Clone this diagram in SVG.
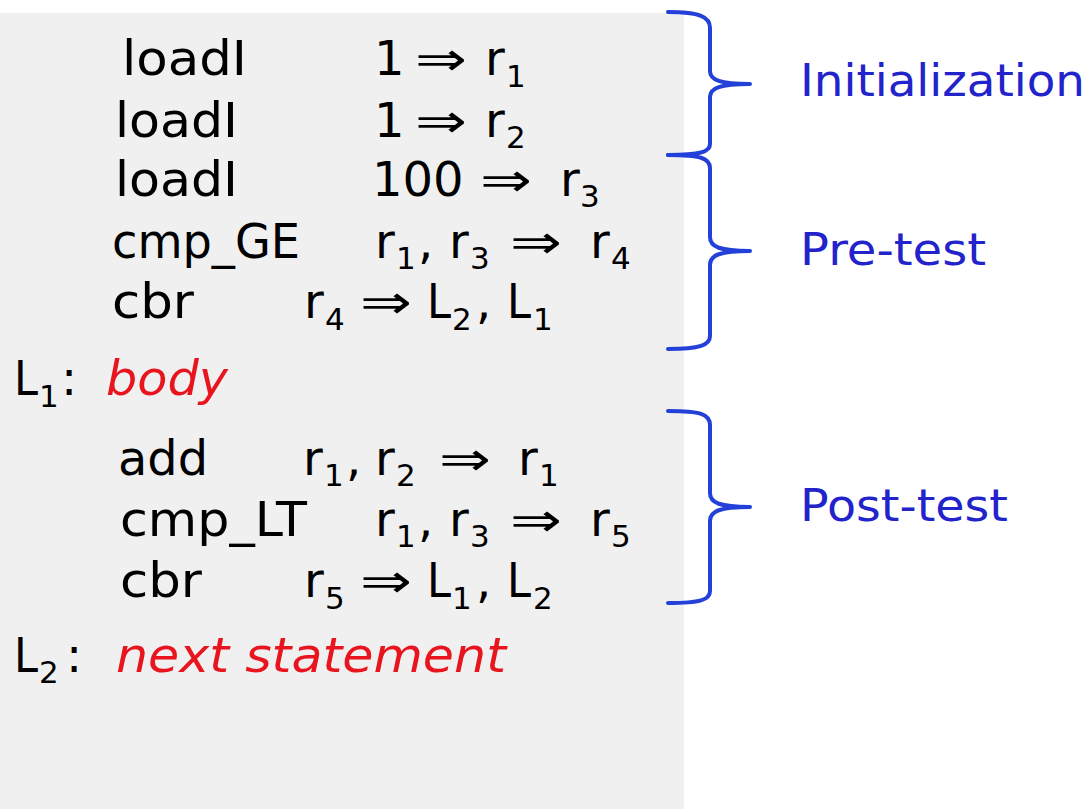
<svg xmlns="http://www.w3.org/2000/svg" width="1091" height="809" viewBox="0 0 1091 809">
<style>
.t{font-family:"DejaVu Sans","Liberation Sans",sans-serif;font-size:48px;fill:#000}
.s{font-family:"DejaVu Sans","Liberation Sans",sans-serif;font-size:31px;fill:#000}
.a{font-family:"DejaVu Sans","Liberation Sans",sans-serif;font-size:46px;fill:#000}
.red{font-family:"DejaVu Sans","Liberation Sans",sans-serif;font-size:48px;font-style:italic;fill:#E8141E}
.lbl{font-family:"DejaVu Sans","Liberation Sans",sans-serif;font-size:44px;fill:#2323CC}
.brace{fill:none;stroke:#2340D8;stroke-width:4;stroke-linecap:round;stroke-linejoin:round}
</style>
<rect x="0" y="13" width="684" height="796" fill="#F0F0F0"/>

<g id="line1">
<text class="t" x="122" y="75" textLength="125" lengthAdjust="spacingAndGlyphs">loadI</text>
<text class="t" x="374" y="75">1</text>
<text class="a" x="415" y="75" textLength="52" lengthAdjust="spacingAndGlyphs">⇒</text>
<text class="t" x="485" y="75">r</text>
<text class="s" x="506" y="87">1</text>
</g>
<g id="line2">
<text class="t" x="115" y="137" textLength="123" lengthAdjust="spacingAndGlyphs">loadI</text>
<text class="t" x="374" y="137">1</text>
<text class="a" x="415" y="137" textLength="52" lengthAdjust="spacingAndGlyphs">⇒</text>
<text class="t" x="485" y="137">r</text>
<text class="s" x="506" y="148">2</text>
</g>
<g id="line3">
<text class="t" x="115" y="196" textLength="123" lengthAdjust="spacingAndGlyphs">loadI</text>
<text class="t" x="372" y="196">100</text>
<text class="a" x="480" y="196" textLength="52" lengthAdjust="spacingAndGlyphs">⇒</text>
<text class="t" x="560" y="196">r</text>
<text class="s" x="580" y="207">3</text>
</g>
<g id="line4">
<text class="t" x="112" y="258" textLength="188" lengthAdjust="spacingAndGlyphs">cmp_GE</text>
<text class="t" x="375" y="258">r</text>
<text class="s" x="396" y="269">1</text>
<text class="t" x="418" y="258">,</text>
<text class="t" x="449" y="258">r</text>
<text class="s" x="470" y="269">3</text>
<text class="a" x="510" y="258" textLength="52" lengthAdjust="spacingAndGlyphs">⇒</text>
<text class="t" x="590" y="258">r</text>
<text class="s" x="611" y="269">4</text>
</g>
<g id="line5">
<text class="t" x="112" y="318" textLength="82" lengthAdjust="spacingAndGlyphs">cbr</text>
<text class="t" x="304" y="318">r</text>
<text class="s" x="325" y="330">4</text>
<text class="a" x="360" y="318" textLength="52" lengthAdjust="spacingAndGlyphs">⇒</text>
<text class="t" x="427" y="318" textLength="24" lengthAdjust="spacingAndGlyphs">L</text>
<text class="s" x="452" y="330">2</text>
<text class="t" x="476" y="318">,</text>
<text class="t" x="507" y="318" textLength="24" lengthAdjust="spacingAndGlyphs">L</text>
<text class="s" x="533" y="330">1</text>
</g>
<g id="label-L1">
<text class="t" x="14" y="395" textLength="24" lengthAdjust="spacingAndGlyphs">L</text>
<text class="s" x="39" y="407">1</text>
<text class="t" x="61" y="395">:</text>
<text class="red" x="106" y="395" textLength="122" lengthAdjust="spacingAndGlyphs">body</text>
</g>
<g id="line7">
<text class="t" x="118" y="475" textLength="90" lengthAdjust="spacingAndGlyphs">add</text>
<text class="t" x="303" y="475">r</text>
<text class="s" x="324" y="486">1</text>
<text class="t" x="346" y="475">,</text>
<text class="t" x="375" y="475">r</text>
<text class="s" x="396" y="486">2</text>
<text class="a" x="439" y="475" textLength="52" lengthAdjust="spacingAndGlyphs">⇒</text>
<text class="t" x="518" y="475">r</text>
<text class="s" x="539" y="486">1</text>
</g>
<g id="line8">
<text class="t" x="120" y="536" textLength="187" lengthAdjust="spacingAndGlyphs">cmp_LT</text>
<text class="t" x="375" y="536">r</text>
<text class="s" x="396" y="547">1</text>
<text class="t" x="418" y="536">,</text>
<text class="t" x="449" y="536">r</text>
<text class="s" x="470" y="547">3</text>
<text class="a" x="510" y="536" textLength="52" lengthAdjust="spacingAndGlyphs">⇒</text>
<text class="t" x="590" y="536">r</text>
<text class="s" x="611" y="547">5</text>
</g>
<g id="line9">
<text class="t" x="120" y="597" textLength="82" lengthAdjust="spacingAndGlyphs">cbr</text>
<text class="t" x="304" y="597">r</text>
<text class="s" x="325" y="609">5</text>
<text class="a" x="360" y="597" textLength="52" lengthAdjust="spacingAndGlyphs">⇒</text>
<text class="t" x="427" y="597" textLength="24" lengthAdjust="spacingAndGlyphs">L</text>
<text class="s" x="452" y="609">1</text>
<text class="t" x="476" y="597">,</text>
<text class="t" x="507" y="597" textLength="24" lengthAdjust="spacingAndGlyphs">L</text>
<text class="s" x="533" y="609">2</text>
</g>
<g id="label-L2">
<text class="t" x="14" y="672" textLength="24" lengthAdjust="spacingAndGlyphs">L</text>
<text class="s" x="39" y="683">2</text>
<text class="t" x="66" y="672">:</text>
<text class="red" x="116" y="672" textLength="390" lengthAdjust="spacingAndGlyphs">next statement</text>
</g>

<g id="connectors">
<path id="brace-init" class="brace" d="M668,12 C700,12 710,17 710,28 L710,71 C710,80 720,84 750,84 C720,84 710,88 710,97 L710,144 C710,152 700,155 668,155"/>
<path id="brace-pre" class="brace" d="M668,155 C700,155 710,158 710,168 L710,237 C710,247 720,251 750,251 C720,251 710,255 710,265 L710,336 C710,345 700,349 668,349"/>
<path id="brace-post" class="brace" d="M668,411 C700,411 710,414 710,425 L710,493 C710,503 720,507 750,507 C720,507 710,511 710,521 L710,591 C710,600 700,603 668,603"/>
</g>

<g id="node-init"><text class="lbl" x="800" y="96" textLength="285" lengthAdjust="spacingAndGlyphs">Initialization</text></g>
<g id="node-pre"><text class="lbl" x="800" y="265" textLength="186" lengthAdjust="spacingAndGlyphs">Pre-test</text></g>
<g id="node-post"><text class="lbl" x="800" y="521" textLength="208" lengthAdjust="spacingAndGlyphs">Post-test</text></g>
</svg>
